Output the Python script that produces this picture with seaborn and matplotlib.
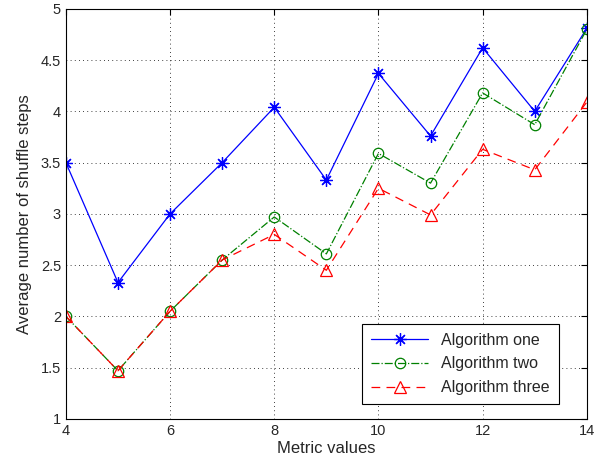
import matplotlib
matplotlib.use("Agg")
import matplotlib.pyplot as plt
import seaborn as sns
import pandas as pd

x = [4, 5, 6, 7, 8, 9, 10, 11, 12, 13, 14]
algo_one = [3.50, 2.33, 3.00, 3.50, 4.04, 3.33, 4.37, 3.76, 4.62, 4.00, 4.81]
algo_two = [2.00, 1.47, 2.05, 2.55, 2.97, 2.61, 3.59, 3.30, 4.18, 3.87, 4.80]
algo_three = [2.00, 1.47, 2.05, 2.55, 2.80, 2.45, 3.25, 2.99, 3.63, 3.43, 4.09]
names = ["Algorithm one", "Algorithm two", "Algorithm three"]

sns.set_style("white")
plt.rcParams['font.family'] = ['Liberation Sans', 'DejaVu Sans']

fig = plt.figure(figsize=(6.1, 4.66), dpi=100)
ax = fig.add_axes([0.108, 0.101, 0.854, 0.880])

styles = [
    dict(color="#0000ff", marker=(8, 2, 0), linestyle="-", markersize=9),
    dict(color="#008000", marker="o", linestyle="-.", markersize=7.5, markerfacecolor="none"),
    dict(color="#ff0000", marker="^", linestyle=(0, (7, 5)), markersize=9, markerfacecolor="none"),
]
for name, vals, st in zip(names, [algo_one, algo_two, algo_three], styles):
    df = pd.DataFrame({"x": x, "y": vals})
    sns.lineplot(data=df, x="x", y="y", ax=ax, label=name, linewidth=0.9,
                 markeredgewidth=0.9, markeredgecolor=st["color"], **st)

ax.set_xlim(4, 14)
ax.set_ylim(1, 5)
ax.set_xticks([4, 6, 8, 10, 12, 14])
ax.set_yticks([1, 1.5, 2, 2.5, 3, 3.5, 4, 4.5, 5])
ax.set_yticklabels(["1", "1.5", "2", "2.5", "3", "3.5", "4", "4.5", "5"])
ax.grid(True, linestyle=(0, (1, 4)), color="black", linewidth=0.6)
ax.tick_params(direction="in", top=True, right=True, length=4, labelsize=10.5, color="black")
for s in ax.spines.values():
    s.set_color("black")
    s.set_linewidth(0.8)
ax.set_xlabel("Metric values", fontsize=12, labelpad=2)
ax.set_ylabel("Average number of shuffle steps", fontsize=12, labelpad=6)

leg = ax.legend(loc="lower right", bbox_to_anchor=(0.961, 0.017), fontsize=11.5,
                frameon=True, fancybox=False, edgecolor="black", framealpha=1,
                handlelength=3.6, borderpad=0.55, labelspacing=0.55)
leg.get_frame().set_linewidth(0.8)

fig.savefig("out.png", dpi=100)
